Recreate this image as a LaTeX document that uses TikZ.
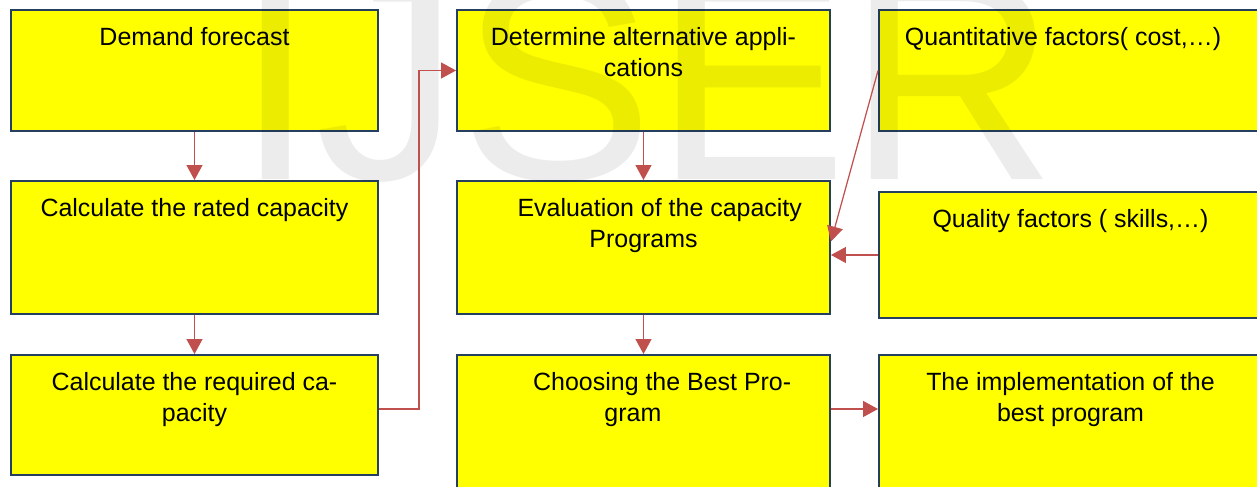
\documentclass[tikz,border=0pt]{standalone}
\usepackage{fontspec}
\setmainfont{Liberation Sans}
\usetikzlibrary{positioning,arrows.meta}
\definecolor{boxfill}{HTML}{FFFF00}
\definecolor{boxline}{HTML}{243F60}
\definecolor{arrowred}{HTML}{C0504D}
\begin{document}
\begin{tikzpicture}[x=2mm,y=2mm,
		stage/.style={draw=boxline, line width=1.1pt, fill=boxfill},
		stagetext/.style={align=center, inner sep=0pt, font=\fontsize{14.2pt}{17.6pt}\selectfont},
		flow/.style={draw=arrowred, line width=0.7pt, -{Triangle[length=0.3cm,width=0.32cm]}},
		wmark/.style={black, opacity=0.075, inner sep=0pt, font=\fontsize{165pt}{165pt}\selectfont}]
		\useasboundingbox (0,0) rectangle (125.7,-48.7);
		% left column
		\node [stage, minimum width=7.34cm, minimum height=2.42cm] (dem) at (19.45,-7.05) {};
		\node [stage, minimum width=7.34cm, minimum height=2.66cm] (rated) at (19.45,-24.75) {};
		\node [stage, minimum width=7.34cm, minimum height=2.4cm] (req) at (19.45,-41.5) {};
		% middle column
		\node [stage, minimum width=7.46cm, minimum height=2.42cm] (det) at (64.35,-7.05) {};
		\node [stage, minimum width=7.46cm, minimum height=2.66cm] (eval) at (64.35,-24.75) {};
		\node [stage, minimum width=7.46cm, minimum height=3cm] (choose) at (64.35,-43) {};
		% right column
		\node [stage, minimum width=7.66cm, minimum height=2.42cm] (quant) at (107.05,-7.05) {};
		\node [stage, minimum width=7.66cm, minimum height=2.52cm] (qual) at (107.05,-25.5) {};
		\node [stage, minimum width=7.66cm, minimum height=3cm] (impl) at (107.05,-43) {};
		% texts
		\node [stagetext, below=0.36cm of dem.north] (demtxt) {Demand forecast};
		\node [stagetext, below=0.36cm of rated.north] (ratedtxt) {Calculate the rated capacity};
		\node [stagetext, below=0.36cm of req.north] (reqtxt) {Calculate the required ca-\\pacity};
		\node [stagetext, below=0.36cm of det.north] (dettxt) {Determine alternative appli-\\cations};
		\node [stagetext, below=0.36cm of eval.north] (evaltxt) {\hspace*{1.3em}Evaluation of the capacity\\Programs};
		\node [stagetext, below=0.36cm of choose.north] (choosetxt) {\hspace*{1.5em}Choosing the Best Pro-\\gram\hspace*{0.85em}};
		\node [stagetext, below=0.36cm of quant.north] (quanttxt) {Quantitative factors( cost,…)\hspace*{0.6em}};
		\node [stagetext, below=0.36cm of qual.north] (qualtxt) {Quality factors ( skills,…)};
		\node [stagetext, below=0.36cm of impl.north] (impltxt) {The implementation of the\\best program};
		% watermark
		\node [wmark, anchor=base west] (ijser) at (23.5,-18) {IJSER};
		% connectors
		\coordinate (lowrow) at (0,-40.9);
		\coordinate (evalin) at ([yshift=0.12cm]eval.east);
		\draw [flow] (dem) -- (rated);
		\draw [flow] (rated) -- (req);
		\draw [flow] (req.east |- lowrow) -- ++(4,0) |- (det.west);
		\draw [flow] (det) -- (eval);
		\draw [flow] (eval) -- (choose);
		\draw [flow] (quant.west) -- (evalin);
		\draw [flow] (qual.west) -- (qual.west -| eval.east);
		\draw [flow] (choose.east |- lowrow) -- (impl.west |- lowrow);
\end{tikzpicture}
\end{document}
